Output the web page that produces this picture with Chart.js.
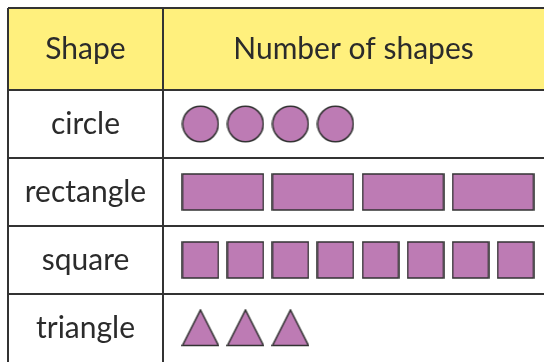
<!DOCTYPE html>
<html>
<head>
<meta charset="utf-8">
<script src="https://cdn.jsdelivr.net/npm/chart.js@4.4.1/dist/chart.umd.min.js"></script>
<style>
  html, body { margin: 0; padding: 0; background: #fff; }
</style>
</head>
<body>
<canvas id="chart" width="544" height="362"></canvas>
<script>
// pictograph data
const shapes = ["circle", "rectangle", "square", "triangle"];
const counts = [4, 4, 8, 3];
const slotsPerShape = [1, 2, 1, 1]; // a rectangle takes two slots
const headerLeft = "Shape";
const headerRight = "Number of shapes";

const FONT = "Lato";
const FONT_SIZE = 30;
const INK = "#2b2b2b";
const LINE = "#333333";
const FILL = "#bd7bb4";
const YELLOW = "#fff07d";

// build one picture per shape to use as a point style
function makeIcon(kind) {
    const c = document.createElement("canvas");
    const w = kind === "rectangle" ? 83 : 38;
    const h = 38;
    c.width = w;
    c.height = h;
    const g = c.getContext("2d");
    g.fillStyle = FILL;
    g.strokeStyle = LINE;
    g.lineWidth = 1.6;
    g.beginPath();
    if (kind === "circle") {
        g.arc(w / 2, h / 2, 17.8, 0, Math.PI * 2);
    } else if (kind === "triangle") {
        g.moveTo(w / 2, 1);
        g.lineTo(w - 1, h - 1.5);
        g.lineTo(1, h - 1.5);
        g.closePath();
    } else {
        g.rect(1, 1, w - 2, h - 2);
    }
    g.fill();
    g.stroke();
    return c;
}

const datasets = shapes.map((shape, i) => {
    const pts = [];
    for (let k = 0; k < counts[i]; k++) {
        pts.push({ x: k * slotsPerShape[i] + (slotsPerShape[i] - 1) / 2, y: shape });
    }
    return {
        label: shape,
        data: pts,
        pointStyle: makeIcon(shape),
        pointRadius: 18,
        pointHoverRadius: 18
    };
});

// centre the row labels inside the first column
const measure = document.createElement("canvas").getContext("2d");
measure.font = FONT_SIZE + "px " + FONT;
const widest = Math.max(...shapes.map(s => measure.measureText(s).width));
const labelCol = 155;
const labelPad = -labelCol / 2 - widest / 2;

// header cells and outer frame
const tableFrame = {
    id: "tableFrame",
    beforeDraw(chart) {
        const ctx = chart.ctx;
        const a = chart.chartArea;
        ctx.save();
        ctx.fillStyle = YELLOW;
        ctx.fillRect(8, 8, chart.width - 8, a.top - 8);
        ctx.strokeStyle = LINE;
        ctx.lineWidth = 2;
        ctx.beginPath();
        ctx.moveTo(8, 8);
        ctx.lineTo(chart.width, 8);
        ctx.moveTo(8, 8);
        ctx.lineTo(8, chart.height);
        ctx.moveTo(a.left, 8);
        ctx.lineTo(a.left, a.top);
        ctx.stroke();
        ctx.fillStyle = INK;
        ctx.font = FONT_SIZE + "px " + FONT;
        ctx.textAlign = "center";
        ctx.textBaseline = "middle";
        ctx.fillText(headerLeft, 8 + labelCol / 2, 49);
        ctx.restore();
    }
};

new Chart(document.getElementById("chart"), {
    type: "scatter",
    data: { datasets: datasets },
    options: {
        responsive: false,
        animation: false,
        events: [],
        layout: { autoPadding: false, padding: { left: 8, top: 8, right: 0, bottom: 0 } },
        plugins: {
            legend: { display: false },
            tooltip: { enabled: false }
        },
        scales: {
            x: {
                type: "linear",
                position: "top",
                min: -0.833,
                max: 7.633,
                grid: { display: false },
                border: { display: true, color: LINE, width: 2 },
                ticks: { display: false },
                title: {
                    display: true,
                    text: headerRight,
                    color: INK,
                    font: { family: FONT, size: FONT_SIZE },
                    padding: { top: 23, bottom: 0 }
                },
                afterFit(scale) { scale.height = 82; }
            },
            y: {
                type: "category",
                labels: shapes,
                offset: true,
                grid: {
                    offset: true,
                    // the table continues below the picture, so no closing line
                    color: c => c.tick ? LINE : "rgba(0,0,0,0)",
                    lineWidth: 2,
                    drawTicks: true,
                    tickLength: labelCol
                },
                border: { display: true, color: LINE, width: 2 },
                ticks: {
                    color: INK,
                    font: { family: FONT, size: FONT_SIZE },
                    crossAlign: "center",
                    padding: labelPad
                },
                afterFit(scale) { scale.width = labelCol; }
            }
        }
    },
    plugins: [tableFrame]
});
</script>
</body>
</html>
